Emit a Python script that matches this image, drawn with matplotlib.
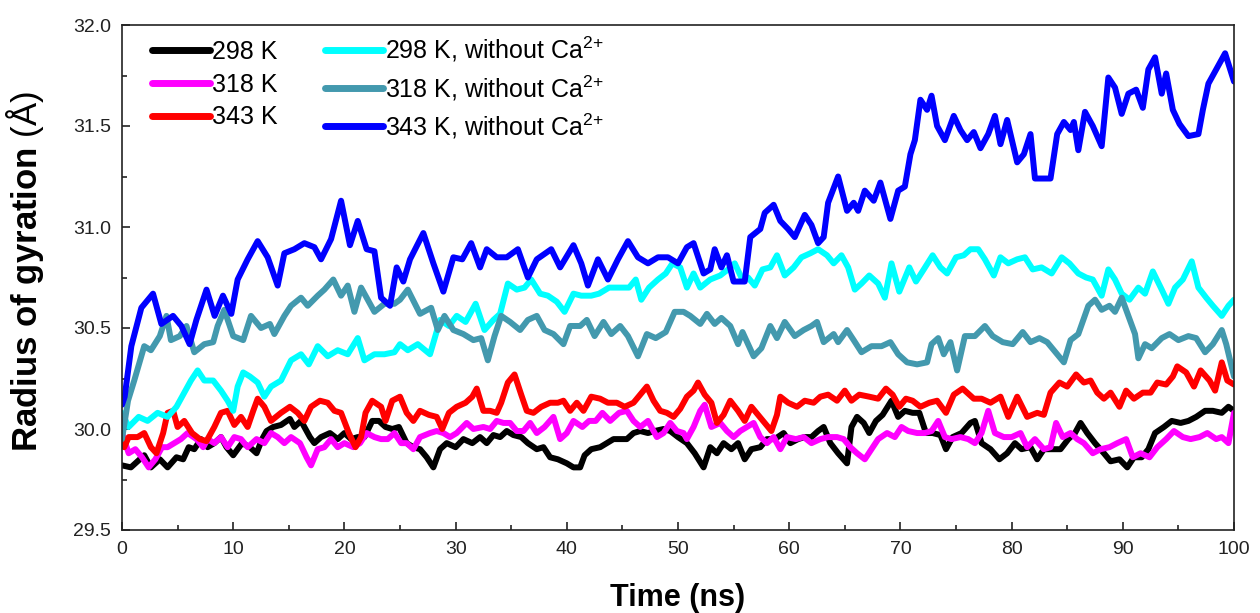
import matplotlib
matplotlib.use("Agg")
import matplotlib.pyplot as plt
from matplotlib.ticker import MultipleLocator, FormatStrFormatter

plt.rcParams['font.family'] = ['Liberation Sans', 'DejaVu Sans']
plt.rcParams['mathtext.fontset'] = 'custom'
plt.rcParams['mathtext.rm'] = 'Liberation Sans'
plt.rcParams['mathtext.bf'] = 'Liberation Sans:bold'
plt.rcParams['mathtext.it'] = 'Liberation Sans:italic'
plt.rcParams['mathtext.default'] = 'regular'

labels = ["298 K", "318 K", "343 K",
          r"298 K, without Ca$^{2\!+}$", r"318 K, without Ca$^{2\!+}$", r"343 K, without Ca$^{2\!+}$"]
colors = ["#000000", "#FF00FF", "#FF0000", "#00FFFF", "#4399AE", "#0000FF"]

t_298 = [0.0, 0.8, 1.4, 2.0, 2.6, 3.4, 4.1, 4.9, 5.5, 6.0, 6.5, 7.1, 7.7, 8.3, 8.9, 9.4, 10.0, 10.8, 11.5, 12.1,
         12.6, 13.0, 13.6, 14.3, 15.1, 15.5, 16.1, 16.9, 17.3, 17.9, 18.7, 19.4, 20.0, 20.6, 21.2, 21.8, 22.5, 23.1,
         23.7, 24.3, 24.9, 25.6, 26.2, 26.8, 27.4, 28.0, 28.6, 29.2, 30.0, 30.7, 31.5, 32.2, 32.8, 33.4, 34.0, 34.6,
         35.2, 35.9, 36.5, 37.3, 37.9, 38.5, 39.2, 40.0, 40.6, 41.2, 41.6, 42.2, 43.0, 43.6, 44.2, 44.8, 45.4, 46.0,
         46.6, 47.3, 47.9, 48.7, 49.3, 50.0, 50.8, 51.5, 52.3, 52.9, 53.5, 54.1, 54.8, 55.4, 56.0, 56.6, 57.4, 58.0,
         58.7, 59.5, 60.1, 60.8, 61.4, 62.0, 62.6, 63.1, 63.7, 64.4, 65.2, 65.6, 66.1, 66.7, 67.2, 67.8, 68.4, 69.2,
         69.8, 70.4, 71.1, 71.7, 72.3, 72.9, 73.6, 74.1, 74.7, 75.5, 76.3, 76.7, 77.3, 78.1, 78.9, 79.6, 80.3, 80.9,
         81.7, 82.3, 82.9, 83.6, 84.4, 85.1, 85.7, 86.2, 86.8, 87.5, 88.3, 88.9, 89.7, 90.4, 91.0, 91.7, 92.3, 92.9,
         93.7, 94.4, 95.2, 95.9, 96.6, 97.4, 98.1, 98.9, 99.5, 100.0]
rg_298 = [29.82, 29.81, 29.84, 29.87, 29.81, 29.85, 29.81, 29.86, 29.85, 29.91, 29.90, 29.95, 29.91, 29.93, 29.96,
          29.91, 29.87, 29.93, 29.91, 29.88, 29.95, 29.99, 30.01, 30.02, 30.05, 30.01, 30.04, 29.96, 29.93, 29.96,
          29.98, 29.95, 29.98, 29.95, 29.96, 29.96, 30.04, 30.04, 30.01, 30.00, 30.01, 29.93, 29.91, 29.90, 29.86,
          29.81, 29.90, 29.93, 29.91, 29.95, 29.93, 29.96, 29.93, 29.97, 29.96, 29.99, 29.97, 29.96, 29.93, 29.90,
          29.91, 29.86, 29.85, 29.83, 29.81, 29.81, 29.87, 29.90, 29.91, 29.93, 29.95, 29.95, 29.95, 29.98, 29.99,
          29.98, 29.99, 30.00, 29.99, 29.96, 29.93, 29.88, 29.81, 29.91, 29.88, 29.93, 29.90, 29.93, 29.85, 29.90,
          29.91, 29.95, 29.95, 29.98, 29.93, 29.95, 29.96, 29.96, 29.99, 30.01, 29.93, 29.88, 29.83, 30.01, 30.06,
          30.03, 29.98, 30.04, 30.07, 30.14, 30.06, 30.09, 30.08, 30.08, 29.98, 29.98, 29.97, 29.90, 29.96, 29.98,
          30.03, 30.04, 29.93, 29.90, 29.85, 29.88, 29.93, 29.90, 29.91, 29.85, 29.90, 29.90, 29.90, 29.95, 29.98,
          30.03, 29.98, 29.93, 29.88, 29.84, 29.85, 29.81, 29.86, 29.86, 29.90, 29.98, 30.01, 30.04, 30.03, 30.04,
          30.06, 30.09, 30.09, 30.08, 30.11, 30.09]

t_318 = [0.0, 0.6, 1.2, 1.8, 2.4, 3.0, 3.6, 4.1, 4.7, 5.3, 5.9, 6.7, 7.3, 7.7, 8.3, 8.9, 9.5, 10.1, 10.7, 11.3,
         12.1, 12.8, 13.4, 14.0, 14.6, 15.2, 16.0, 16.6, 17.0, 17.6, 18.2, 18.8, 19.4, 20.0, 20.8, 21.4, 22.0, 22.7,
         23.3, 23.9, 24.5, 25.1, 25.6, 26.2, 26.8, 27.7, 28.3, 28.9, 29.5, 30.1, 31.0, 31.6, 32.5, 33.1, 33.7, 34.3,
         34.9, 35.5, 36.1, 36.7, 37.3, 38.0, 38.8, 39.4, 40.0, 40.6, 41.4, 42.0, 42.6, 43.2, 43.9, 44.7, 45.4, 46.0,
         46.6, 47.3, 48.1, 48.7, 49.3, 49.9, 50.5, 50.8, 51.4, 52.0, 52.4, 53.0, 53.8, 54.4, 55.0, 55.6, 56.2, 56.8,
         57.4, 58.0, 58.6, 59.2, 59.8, 60.6, 61.3, 62.0, 62.8, 63.5, 64.3, 64.9, 65.5, 66.1, 66.8, 67.4, 68.0, 68.8,
         69.5, 70.1, 70.7, 71.5, 72.2, 72.8, 73.4, 74.0, 74.6, 75.4, 76.1, 76.7, 77.3, 77.9, 78.5, 79.3, 80.0, 80.8,
         81.4, 82.1, 82.9, 83.5, 84.0, 84.6, 85.3, 85.9, 86.5, 87.3, 88.0, 88.8, 89.5, 90.3, 90.9, 91.6, 92.4, 93.1,
         93.9, 94.6, 95.4, 96.1, 96.9, 97.6, 98.4, 98.9, 99.5, 100.0]
rg_318 = [29.98, 29.88, 29.90, 29.86, 29.81, 29.85, 29.91, 29.91, 29.93, 29.95, 29.98, 29.95, 29.91, 29.95, 29.93,
          29.96, 29.91, 29.96, 29.95, 29.91, 29.95, 29.93, 29.98, 29.96, 29.93, 29.96, 29.93, 29.86, 29.82, 29.90,
          29.91, 29.95, 29.91, 29.93, 29.91, 29.93, 29.98, 29.96, 29.95, 29.95, 29.98, 29.93, 29.93, 29.90, 29.96,
          29.98, 29.99, 29.98, 29.96, 29.98, 30.03, 30.00, 30.01, 30.00, 30.04, 30.03, 30.03, 29.99, 29.99, 30.03,
          29.98, 30.01, 30.06, 29.95, 29.98, 30.04, 30.01, 30.04, 30.04, 30.08, 30.04, 30.08, 30.09, 30.04, 30.01,
          30.04, 29.96, 29.98, 30.03, 29.99, 29.98, 29.95, 30.01, 30.09, 30.12, 30.01, 30.03, 29.99, 29.96, 29.99,
          30.01, 30.03, 29.96, 29.93, 29.96, 29.90, 29.96, 29.95, 29.96, 29.93, 29.95, 29.96, 29.96, 29.95, 29.91,
          29.88, 29.85, 29.90, 29.95, 29.98, 29.96, 30.01, 29.99, 29.98, 29.98, 29.99, 30.04, 29.96, 29.95, 29.96,
          29.95, 29.93, 29.98, 30.09, 29.98, 29.96, 29.96, 29.98, 29.91, 29.95, 29.90, 29.91, 30.03, 29.96, 29.98,
          29.95, 29.93, 29.88, 29.90, 29.91, 29.93, 29.95, 29.86, 29.88, 29.86, 29.91, 29.95, 29.99, 29.96, 29.95,
          29.96, 29.98, 29.95, 29.96, 29.93, 30.08]

t_343 = [0.0, 0.2, 0.6, 1.4, 2.0, 2.6, 3.1, 3.7, 4.1, 4.6, 5.0, 5.6, 6.3, 7.0, 7.6, 8.3, 8.9, 9.5, 10.1, 10.7,
         11.3, 11.8, 12.2, 12.8, 13.4, 14.3, 15.1, 15.8, 16.4, 17.0, 17.8, 18.5, 19.1, 19.7, 20.4, 21.0, 21.5, 21.9,
         22.5, 23.3, 23.7, 24.3, 25.0, 25.6, 26.2, 26.8, 27.6, 28.3, 28.8, 29.4, 30.1, 30.9, 31.5, 31.9, 32.5, 33.1,
         33.7, 34.1, 34.7, 35.3, 35.9, 36.4, 37.0, 37.7, 38.5, 39.2, 39.7, 40.3, 40.9, 41.5, 42.2, 43.0, 43.7, 44.5,
         45.2, 46.0, 46.6, 47.2, 47.8, 48.4, 49.0, 49.6, 50.2, 50.8, 51.4, 51.8, 52.4, 53.0, 53.5, 54.1, 54.7, 55.4,
         56.0, 56.6, 57.2, 57.8, 58.4, 58.9, 59.2, 59.9, 60.7, 61.4, 62.2, 62.8, 63.5, 64.3, 65.0, 65.6, 66.3, 67.2,
         68.0, 68.7, 69.3, 69.9, 70.5, 71.1, 71.8, 72.6, 73.3, 74.1, 74.8, 75.6, 76.6, 77.3, 78.1, 79.0, 79.7, 80.5,
         81.4, 82.3, 82.9, 83.5, 84.3, 85.0, 85.8, 86.5, 87.1, 87.7, 88.3, 88.9, 89.7, 90.3, 91.0, 91.8, 92.5, 93.1,
         93.9, 94.5, 94.9, 95.7, 96.4, 97.0, 97.8, 98.3, 98.9, 99.4, 100.0]
rg_343 = [29.97, 29.91, 29.96, 29.96, 29.98, 29.91, 29.88, 29.98, 30.08, 30.09, 30.01, 30.04, 29.98, 29.95, 29.94,
          30.01, 30.08, 30.09, 30.02, 30.06, 30.01, 30.09, 30.15, 30.11, 30.04, 30.08, 30.11, 30.08, 30.04, 30.11,
          30.14, 30.13, 30.09, 30.08, 29.98, 29.91, 29.96, 30.08, 30.14, 30.11, 30.04, 30.14, 30.16, 30.08, 30.04,
          30.09, 30.07, 30.06, 30.00, 30.08, 30.11, 30.13, 30.16, 30.20, 30.09, 30.09, 30.08, 30.13, 30.23, 30.27,
          30.17, 30.09, 30.08, 30.11, 30.13, 30.13, 30.14, 30.09, 30.13, 30.09, 30.16, 30.15, 30.13, 30.13, 30.11,
          30.13, 30.17, 30.21, 30.14, 30.09, 30.08, 30.06, 30.10, 30.16, 30.19, 30.23, 30.17, 30.13, 30.03, 30.07,
          30.14, 30.09, 30.04, 30.11, 30.07, 30.03, 29.99, 30.07, 30.16, 30.13, 30.11, 30.14, 30.13, 30.16, 30.17,
          30.14, 30.19, 30.14, 30.17, 30.16, 30.15, 30.20, 30.17, 30.11, 30.15, 30.14, 30.11, 30.13, 30.14, 30.08,
          30.17, 30.20, 30.15, 30.15, 30.13, 30.16, 30.06, 30.16, 30.06, 30.08, 30.07, 30.18, 30.23, 30.21, 30.27,
          30.23, 30.24, 30.18, 30.15, 30.18, 30.11, 30.19, 30.15, 30.18, 30.18, 30.23, 30.22, 30.26, 30.31, 30.28,
          30.21, 30.29, 30.24, 30.19, 30.33, 30.24, 30.22]

t_298_noca = [0.0, 0.6, 1.5, 2.3, 3.2, 4.1, 4.9, 5.6, 6.2, 6.8, 7.4, 8.2, 8.9, 9.5, 10.0, 10.4, 10.9, 11.5, 12.2,
              12.8, 13.4, 14.3, 15.2, 16.1, 16.8, 17.6, 18.5, 19.4, 20.3, 21.2, 21.8, 22.7, 23.6, 24.5, 25.0, 25.7,
              26.6, 27.7, 28.6, 29.4, 30.1, 30.9, 31.8, 32.6, 33.4, 34.0, 34.7, 35.5, 36.2, 36.8, 37.6, 38.3, 39.1,
              39.8, 40.6, 41.3, 42.2, 42.9, 43.8, 44.7, 45.6, 46.2, 46.7, 47.4, 48.2, 48.9, 49.5, 50.2, 50.8, 51.4,
              52.0, 52.9, 53.8, 54.5, 55.1, 55.7, 56.3, 56.9, 57.6, 58.3, 58.9, 59.6, 60.4, 61.1, 61.9, 62.6, 63.4,
              64.0, 64.7, 65.3, 65.9, 66.5, 67.2, 68.0, 68.6, 69.2, 69.9, 70.8, 71.4, 72.1, 72.9, 73.6, 74.2, 75.0,
              75.7, 76.3, 77.0, 77.6, 78.4, 79.0, 79.7, 80.5, 81.2, 81.9, 82.7, 83.6, 84.5, 85.2, 86.0, 86.7, 87.3,
              88.1, 88.7, 89.3, 89.9, 90.6, 91.4, 92.0, 92.7, 93.5, 94.1, 94.7, 95.4, 96.2, 96.8, 97.5, 98.1, 98.9,
              99.5, 100.0]
rg_298_noca = [30.08, 30.01, 30.06, 30.04, 30.08, 30.06, 30.11, 30.18, 30.24, 30.29, 30.24, 30.24, 30.19, 30.14,
               30.09, 30.21, 30.28, 30.26, 30.23, 30.16, 30.21, 30.24, 30.34, 30.37, 30.32, 30.41, 30.36, 30.39,
               30.37, 30.45, 30.34, 30.37, 30.37, 30.38, 30.42, 30.39, 30.42, 30.37, 30.54, 30.51, 30.56, 30.53,
               30.62, 30.49, 30.54, 30.57, 30.72, 30.69, 30.70, 30.74, 30.67, 30.66, 30.63, 30.58, 30.67, 30.66,
               30.66, 30.67, 30.70, 30.70, 30.70, 30.74, 30.64, 30.70, 30.74, 30.77, 30.82, 30.80, 30.70, 30.77,
               30.70, 30.74, 30.76, 30.79, 30.82, 30.75, 30.75, 30.71, 30.79, 30.80, 30.86, 30.76, 30.80, 30.85,
               30.87, 30.89, 30.86, 30.82, 30.86, 30.80, 30.69, 30.72, 30.76, 30.72, 30.65, 30.82, 30.68, 30.80,
               30.73, 30.79, 30.86, 30.80, 30.77, 30.85, 30.86, 30.89, 30.89, 30.84, 30.76, 30.85, 30.82, 30.84,
               30.85, 30.79, 30.80, 30.77, 30.85, 30.82, 30.77, 30.75, 30.74, 30.66, 30.79, 30.74, 30.67, 30.64,
               30.70, 30.67, 30.78, 30.69, 30.62, 30.70, 30.74, 30.83, 30.70, 30.65, 30.61, 30.56, 30.61, 30.64]

t_318_noca = [0.0, 0.54, 1.1, 2.0, 2.6, 3.4, 4.0, 4.4, 5.2, 5.8, 6.5, 7.4, 8.2, 8.6, 9.2, 10.0, 10.9, 11.6, 12.5,
              13.3, 13.7, 14.6, 15.2, 16.1, 16.7, 17.6, 18.2, 19.0, 19.7, 20.3, 20.9, 21.5, 22.1, 22.7, 23.6, 24.5,
              25.0, 25.7, 26.8, 27.8, 28.4, 29.0, 29.8, 30.7, 31.6, 32.3, 32.9, 33.5, 34.1, 34.9, 35.8, 36.5, 37.3,
              38.0, 38.8, 39.7, 40.3, 41.2, 41.8, 42.5, 43.3, 44.0, 44.8, 45.5, 46.4, 47.2, 48.0, 48.9, 49.7, 50.5,
              51.1, 52.0, 52.6, 53.3, 53.9, 54.7, 55.4, 55.8, 56.8, 57.5, 58.3, 58.9, 59.6, 60.5, 61.3, 62.0, 62.5,
              63.1, 64.0, 64.4, 65.2, 65.8, 66.5, 67.4, 68.3, 69.1, 69.8, 70.6, 71.5, 72.4, 72.8, 73.4, 73.9, 74.5,
              75.1, 75.8, 76.7, 77.6, 78.3, 79.2, 80.1, 81.0, 81.7, 82.5, 83.2, 83.8, 84.7, 85.3, 86.0, 86.9, 87.5,
              88.1, 88.8, 89.3, 89.9, 90.5, 91.1, 91.4, 92.0, 92.6, 93.5, 94.2, 95.0, 95.9, 96.6, 97.4, 98.1, 98.9,
              99.3, 100.0]
rg_318_noca = [29.95, 30.14, 30.24, 30.41, 30.39, 30.46, 30.56, 30.44, 30.46, 30.51, 30.38, 30.42, 30.43, 30.51,
               30.59, 30.46, 30.44, 30.56, 30.50, 30.52, 30.47, 30.56, 30.61, 30.65, 30.61, 30.66, 30.69, 30.74,
               30.66, 30.71, 30.58, 30.70, 30.64, 30.58, 30.62, 30.62, 30.64, 30.69, 30.57, 30.60, 30.49, 30.56,
               30.49, 30.47, 30.44, 30.45, 30.34, 30.46, 30.56, 30.53, 30.49, 30.54, 30.56, 30.49, 30.47, 30.42,
               30.51, 30.51, 30.54, 30.46, 30.53, 30.47, 30.51, 30.46, 30.36, 30.47, 30.45, 30.48, 30.58, 30.58,
               30.56, 30.52, 30.57, 30.52, 30.55, 30.51, 30.42, 30.48, 30.36, 30.40, 30.51, 30.45, 30.53, 30.46,
               30.49, 30.51, 30.53, 30.43, 30.47, 30.43, 30.49, 30.44, 30.38, 30.41, 30.41, 30.43, 30.37, 30.33,
               30.32, 30.33, 30.42, 30.45, 30.37, 30.43, 30.29, 30.46, 30.46, 30.51, 30.46, 30.43, 30.42, 30.48,
               30.43, 30.45, 30.43, 30.39, 30.33, 30.44, 30.47, 30.61, 30.64, 30.59, 30.61, 30.58, 30.65, 30.56,
               30.47, 30.35, 30.42, 30.40, 30.45, 30.47, 30.44, 30.46, 30.45, 30.38, 30.42, 30.49, 30.42, 30.26]

t_343_noca = [0.0, 0.24, 0.84, 1.74, 2.79, 3.54, 4.59, 5.34, 6.08, 6.69, 7.6, 8.33, 9.08, 9.83, 10.4, 11.3, 12.2,
              13.1, 14.0, 14.6, 15.5, 16.4, 17.3, 17.9, 18.8, 19.7, 20.5, 21.2, 22.0, 22.7, 23.3, 24.1, 24.7, 25.3,
              25.9, 27.1, 28.0, 28.9, 29.8, 30.6, 31.4, 32.2, 32.8, 33.7, 34.6, 35.6, 36.5, 37.3, 38.6, 39.4, 40.6,
              41.3, 41.9, 42.8, 43.7, 44.6, 45.5, 46.4, 47.3, 48.2, 49.1, 50.0, 50.8, 51.4, 52.3, 52.9, 53.3, 53.9,
              54.4, 55.0, 56.0, 56.5, 57.4, 57.8, 58.6, 59.2, 59.9, 60.5, 61.4, 62.0, 62.6, 63.1, 63.5, 64.4, 65.2,
              65.8, 66.2, 66.8, 67.6, 68.2, 69.1, 69.8, 70.4, 70.9, 71.3, 71.8, 72.4, 72.8, 73.3, 74.0, 74.8, 75.4,
              76.0, 76.6, 77.2, 77.9, 78.5, 79.0, 79.6, 80.5, 81.1, 81.7, 82.1, 82.9, 83.5, 84.1, 84.7, 85.3, 85.6,
              86.0, 86.6, 87.3, 88.1, 88.7, 89.3, 89.9, 90.5, 91.2, 91.8, 92.3, 92.9, 93.5, 93.9, 94.5, 95.1, 95.9,
              96.8, 97.2, 97.7, 98.4, 99.2, 100.0]
rg_343_noca = [30.12, 30.16, 30.41, 30.60, 30.67, 30.52, 30.56, 30.51, 30.42, 30.54, 30.69, 30.56, 30.66, 30.57,
               30.74, 30.84, 30.93, 30.85, 30.71, 30.87, 30.89, 30.92, 30.90, 30.84, 30.94, 31.13, 30.91, 31.03,
               30.89, 30.88, 30.65, 30.61, 30.80, 30.73, 30.84, 30.97, 30.82, 30.68, 30.85, 30.84, 30.92, 30.80,
               30.89, 30.85, 30.85, 30.89, 30.75, 30.84, 30.89, 30.80, 30.91, 30.82, 30.71, 30.84, 30.74, 30.84,
               30.93, 30.85, 30.82, 30.85, 30.85, 30.82, 30.90, 30.92, 30.77, 30.79, 30.89, 30.80, 30.86, 30.73,
               30.73, 30.95, 30.99, 31.07, 31.11, 31.03, 30.99, 30.95, 31.06, 31.01, 30.92, 30.95, 31.12, 31.25,
               31.08, 31.12, 31.08, 31.18, 31.13, 31.22, 31.04, 31.18, 31.20, 31.36, 31.43, 31.63, 31.58, 31.65,
               31.50, 31.43, 31.55, 31.48, 31.43, 31.47, 31.39, 31.46, 31.55, 31.41, 31.53, 31.32, 31.36, 31.46,
               31.24, 31.24, 31.24, 31.46, 31.52, 31.48, 31.52, 31.38, 31.57, 31.50, 31.40, 31.74, 31.69, 31.56,
               31.66, 31.68, 31.59, 31.78, 31.84, 31.66, 31.76, 31.58, 31.51, 31.45, 31.46, 31.58, 31.71, 31.78,
               31.86, 31.72]

series_t = [t_298, t_318, t_343, t_298_noca, t_318_noca, t_343_noca]
series_v = [rg_298, rg_318, rg_343, rg_298_noca, rg_318_noca, rg_343_noca]

x_ticks = [0, 10, 20, 30, 40, 50, 60, 70, 80, 90, 100]
y_ticks = [29.5, 30.0, 30.5, 31.0, 31.5, 32.0]

fig = plt.figure(figsize=(12.6, 6.13), dpi=100)
ax = fig.add_axes([122 / 1260, 83 / 613, 1112 / 1260, 505 / 613])

for t, v, c, lab in zip(series_t, series_v, colors, labels):
    ax.plot(t, v, color=c, lw=4.3, label=lab, solid_joinstyle='round', solid_capstyle='round')

ax.set_xlim(0, 100)
ax.set_ylim(29.5, 32.0)
ax.set_xticks(x_ticks)
ax.set_yticks(y_ticks)
ax.xaxis.set_minor_locator(MultipleLocator(5))
ax.yaxis.set_minor_locator(MultipleLocator(0.25))
ax.yaxis.set_major_formatter(FormatStrFormatter('%.1f'))
ax.tick_params(which='both', direction='in', top=False, right=False, labelsize=14, width=1.2, colors='#222222')
ax.tick_params(which='major', length=6, pad=8)
ax.tick_params(which='minor', length=3.5)
for s in ax.spines.values():
    s.set_linewidth(1.2)
    s.set_color('#222222')

ax.set_xlabel("Time (ns)", fontsize=22, fontweight='bold')
ax.xaxis.set_label_coords(0.5, -0.105)
ax.set_ylabel(r"$\mathbf{Radius\ of\ gyration}$ (Å)", fontsize=25)
ax.yaxis.set_label_coords(-0.068, 0.512)

leg = ax.legend(ncol=2, loc='upper left', bbox_to_anchor=(0.018, 1.0), frameon=False,
                fontsize=18, handlelength=2.3, handletextpad=0.1, columnspacing=1.9,
                labelspacing=0.35, borderaxespad=0.0)
for line in leg.get_lines():
    line.set_linewidth(5)

fig.savefig("out.png", dpi=100)
